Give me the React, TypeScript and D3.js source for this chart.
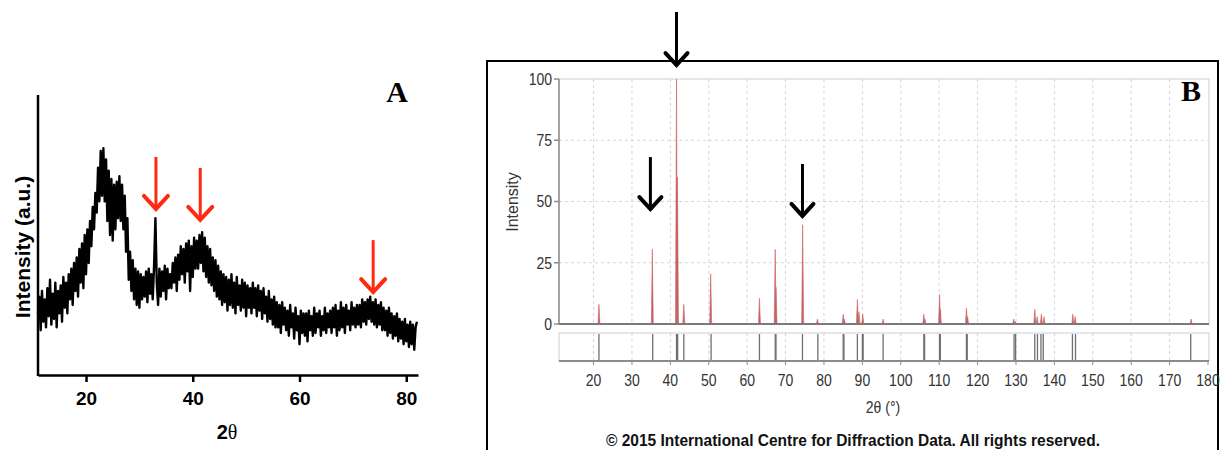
import React, { useEffect, useRef } from "react";
import * as d3 from "d3";

const width = 1221;
const height = 450;

// --- panel A: measured pattern, 2θ = 11 .. 82 every 0.25 (a.u.)
const scanStart = 11;
const scanStep = 0.25;
const scanIntensity = [
  22, 28, 16, 30, 19, 27, 17, 31, 21, 34, 18, 29, 20, 33, 17, 30, 22, 32, 19, 35,
  24, 33, 22, 36, 27, 38, 25, 40, 30, 42, 28, 45, 33, 47, 31, 50, 36, 52, 40, 55,
  46, 60, 52, 65, 58, 74, 62, 80, 64, 81, 62, 77, 55, 73, 50, 70, 48, 68, 52, 69,
  56, 71, 55, 68, 52, 64, 44, 56, 34, 44, 30, 41, 27, 38, 25, 37, 24, 36, 27, 35,
  28, 37, 26, 38, 29, 36, 27, 39, 56, 33, 25, 38, 28, 37, 30, 39, 27, 38, 31, 36,
  31, 40, 33, 42, 30, 43, 34, 46, 36, 45, 33, 47, 37, 48, 30, 46, 35, 49, 38, 48,
  38, 50, 40, 51, 37, 49, 35, 46, 33, 45, 32, 42, 30, 41, 28, 39, 27, 37, 25, 36,
  26, 35, 23, 34, 25, 36, 24, 33, 22, 35, 25, 32, 23, 34, 24, 33, 21, 32, 24, 31,
  22, 33, 24, 31, 21, 32, 23, 30, 20, 31, 22, 28, 19, 30, 20, 27, 18, 28, 17, 26,
  17, 25, 15, 26, 18, 24, 16, 23, 14, 25, 17, 22, 13, 24, 16, 21, 11, 23, 15, 22,
  14, 22, 12, 23, 16, 21, 14, 24, 15, 22, 17, 23, 14, 21, 16, 24, 15, 22, 17, 23,
  15, 24, 17, 25, 14, 23, 16, 26, 17, 24, 15, 25, 18, 23, 16, 26, 18, 24, 17, 25,
  18, 25, 17, 27, 19, 26, 18, 27, 20, 28, 19, 26, 18, 27, 17, 25, 18, 26, 16, 24,
  16, 23, 14, 24, 15, 22, 13, 21, 14, 22, 12, 20, 13, 19, 11, 20, 12, 18, 10, 19,
  11, 18, 9, 17, 19,
];
const ticksA = [20, 40, 60, 80];
const arrowXA = [33.1, 41.4, 73.8];
const arrowTipA = [59.3, 55.4, 29.6];

// --- panel B: ICDD reference card
const peakPos = [
  21.4, 35.3, 41.6, 41.85, 43.5, 50.5, 63.2, 67.3, 67.5, 74.45, 78.3, 85.0, 85.3,
  88.7, 89.1, 90.1, 95.4, 106.0, 106.3, 110.1, 110.3, 117.1, 117.4, 129.4, 129.8,
  134.9, 135.5, 136.6, 137.3, 144.8, 145.4, 175.6,
];
const peakInt = [
  8, 30.5, 100, 60, 8, 20.5, 10.5, 30.5, 15, 40.5, 2, 4, 2,
  10, 5, 4, 2, 4, 2, 12, 6, 6.5, 3, 2, 1,
  6, 3, 4, 3, 4, 3, 2,
];
const stickPos = [
  21.4, 35.4, 41.6, 41.9, 43.5, 50.6, 63.2, 67.3, 67.5, 74.4, 78.4, 85.0, 85.2,
  88.7, 90.0, 90.2, 95.4, 106.0, 106.2, 110.1, 110.3, 117.1, 117.3, 129.5, 129.9,
  134.9, 135.6, 136.5, 137.1, 144.7, 145.5, 175.5,
];
const ticksBx = [20, 30, 40, 50, 60, 70, 80, 90, 100, 110, 120, 130, 140, 150, 160, 170, 180];
const ticksBy = [0, 25, 50, 75, 100];
const arrowXB = [41.6, 34.8, 74.4];
const arrowTipB = [105.7, 46.9, 44.1];

const sans = "'Liberation Sans', Arial, sans-serif";
const serif = "'Liberation Serif', 'Times New Roman', serif";

function arrow(g, x, tip, color, len, head, w) {
  g.append("line")
    .attr("x1", x).attr("x2", x)
    .attr("y1", tip - len).attr("y2", tip - 2)
    .attr("stroke", color).attr("stroke-width", w);
  g.append("path")
    .attr("d", `M${x - head},${tip - head - 1}L${x},${tip}L${x + head},${tip - head - 1}`)
    .attr("fill", "none").attr("stroke", color)
    .attr("stroke-width", w + 1).attr("stroke-linecap", "round").attr("stroke-linejoin", "miter");
}

export default function App() {
  const ref = useRef(null);

  useEffect(() => {
    const svg = d3.select(ref.current);
    svg.selectAll("*").remove();

    // ================= panel A =================
    const xA = d3.scaleLinear().domain([11, 82.2]).range([38, 418]);
    const yA = d3.scaleLinear().domain([0, 100]).range([375, 95]);

    const gA = svg.append("g");
    gA.append("path")
      .datum(scanIntensity)
      .attr("fill", "none")
      .attr("stroke", "#000")
      .attr("stroke-width", 2.4)
      .attr("stroke-linejoin", "round")
      .attr("d", d3.line<number>()
        .x((d, i) => xA(scanStart + i * scanStep))
        .y(d => yA(d)));

    gA.append("g")
      .attr("transform", `translate(0,${yA(0)})`)
      .call(d3.axisBottom(xA).tickValues(ticksA).tickSize(7).tickSizeOuter(0).tickPadding(10))
      .call(g => g.select(".domain").attr("stroke-width", 2.5))
      .call(g => g.selectAll(".tick line").attr("stroke-width", 2.5))
      .call(g => g.selectAll(".tick text")
        .attr("font-family", sans).attr("font-weight", "bold").attr("font-size", 19).attr("fill", "#000"));

    gA.append("line")
      .attr("x1", xA(11)).attr("x2", xA(11))
      .attr("y1", yA(100)).attr("y2", yA(0) + 1)
      .attr("stroke", "#000").attr("stroke-width", 2.5);

    gA.append("text")
      .attr("transform", "translate(22,247) rotate(-90)")
      .attr("text-anchor", "middle").attr("dominant-baseline", "central")
      .attr("font-family", sans).attr("font-weight", "bold").attr("font-size", 21)
      .text("Intensity (a.u.)");

    const tA = gA.append("text")
      .attr("x", 227).attr("y", 439)
      .attr("text-anchor", "middle")
      .attr("font-family", sans).attr("font-weight", "bold").attr("font-size", 20);
    tA.append("tspan").text("2");
    tA.append("tspan").attr("font-family", serif).attr("font-weight", "normal").text("θ");

    gA.append("text")
      .attr("x", 397).attr("y", 102)
      .attr("text-anchor", "middle")
      .attr("font-family", serif).attr("font-weight", "bold").attr("font-size", 30)
      .text("A");

    arrowXA.forEach((x, i) => arrow(gA, xA(x), yA(arrowTipA[i]), "#ff2a12", 52, 12, 3));

    // ================= panel B =================
    const xB = d3.scaleLinear().domain([11, 180]).range([559, 1208]);
    const yB = d3.scaleLinear().domain([0, 100]).range([324, 79]);
    const left = 559, right = 1209, top = 79, bottom = 324;
    const sTop = 333, sBot = 361;
    const gB = svg.append("g");

    // frame
    gB.append("path")
      .attr("d", `M487,${height}V61H1218V${height}`)
      .attr("fill", "none").attr("stroke", "#000").attr("stroke-width", 2);

    // grid
    gB.selectAll(".vgrid")
      .data(ticksBx.filter(d => d < 180))
      .join("path")
      .attr("d", d => `M${xB(d)},${top}V${bottom}M${xB(d)},${sTop}V${sBot}`)
      .attr("stroke", "#d6d6d6").attr("stroke-dasharray", "3,3");
    gB.selectAll(".hgrid")
      .data(ticksBy.filter(d => d > 0 && d < 100))
      .join("line")
      .attr("x1", left).attr("x2", right)
      .attr("y1", d => yB(d)).attr("y2", d => yB(d))
      .attr("stroke", "#d6d6d6").attr("stroke-dasharray", "3,3");

    gB.append("rect")
      .attr("x", left).attr("y", top).attr("width", right - left).attr("height", bottom - top)
      .attr("fill", "none").attr("stroke", "#cfcfcf");
    gB.append("rect")
      .attr("x", left).attr("y", sTop).attr("width", right - left).attr("height", sBot - sTop)
      .attr("fill", "none").attr("stroke", "#cfcfcf");

    // peaks
    gB.selectAll(".peak")
      .data(peakPos)
      .join("path")
      .attr("d", (d, i) => `M${xB(d) - 1},${yB(0)}L${xB(d)},${yB(peakInt[i])}L${xB(d) + 1},${yB(0)}Z`)
      .attr("fill", "#c86262").attr("stroke", "#c86262").attr("stroke-width", 0.6);

    // y axis
    gB.append("line")
      .attr("x1", left).attr("x2", left).attr("y1", top).attr("y2", bottom)
      .attr("stroke", "#8c8c8c").attr("stroke-width", 1.5);
    gB.selectAll(".ytick")
      .data(ticksBy)
      .join("line")
      .attr("x1", left - 5).attr("x2", left)
      .attr("y1", d => yB(d)).attr("y2", d => yB(d))
      .attr("stroke", "#8c8c8c").attr("stroke-width", 1.5);
    gB.selectAll(".ylab")
      .data(ticksBy)
      .join("text")
      .attr("transform", d => `translate(552,${yB(d)}) scale(1,1.18)`)
      .attr("text-anchor", "end").attr("dominant-baseline", "central")
      .attr("font-family", sans).attr("font-size", 14).attr("fill", "#333")
      .text(d => d);

    gB.append("line")
      .attr("x1", left).attr("x2", right).attr("y1", yB(0)).attr("y2", yB(0))
      .attr("stroke", "#7a7a7a").attr("stroke-width", 2);

    // stick pattern
    gB.selectAll(".stick")
      .data(stickPos)
      .join("line")
      .attr("x1", d => xB(d)).attr("x2", d => xB(d))
      .attr("y1", sTop + 1).attr("y2", sBot)
      .attr("stroke", "#707070").attr("stroke-width", 1.3);
    gB.append("line")
      .attr("x1", left).attr("x2", right).attr("y1", sBot).attr("y2", sBot)
      .attr("stroke", "#8c8c8c").attr("stroke-width", 2);

    // x axis
    gB.selectAll(".xtick")
      .data(ticksBx)
      .join("line")
      .attr("x1", d => xB(d)).attr("x2", d => xB(d))
      .attr("y1", sBot).attr("y2", sBot + 4)
      .attr("stroke", "#8c8c8c");
    gB.selectAll(".xlab")
      .data(ticksBx)
      .join("text")
      .attr("transform", d => `translate(${xB(d)},380) scale(1,1.18)`)
      .attr("text-anchor", "middle").attr("dominant-baseline", "central")
      .attr("font-family", sans).attr("font-size", 14).attr("fill", "#333")
      .text(d => d);

    gB.append("text")
      .attr("transform", "translate(883,407) scale(1,1.18)")
      .attr("text-anchor", "middle").attr("dominant-baseline", "central")
      .attr("font-family", sans).attr("font-size", 14).attr("fill", "#333")
      .text("2θ (°)");

    gB.append("text")
      .attr("transform", "translate(512,202) rotate(-90)")
      .attr("text-anchor", "middle").attr("dominant-baseline", "central")
      .attr("font-family", sans).attr("font-size", 16).attr("fill", "#333")
      .text("Intensity");

    gB.append("text")
      .attr("x", 606).attr("y", 446)
      .attr("textLength", 494).attr("lengthAdjust", "spacingAndGlyphs")
      .attr("font-family", sans).attr("font-weight", "bold").attr("font-size", 16.5).attr("fill", "#111")
      .text("© 2015 International Centre for Diffraction Data. All rights reserved.");

    gB.append("text")
      .attr("x", 1191).attr("y", 101)
      .attr("text-anchor", "middle")
      .attr("font-family", serif).attr("font-weight", "bold").attr("font-size", 30)
      .text("B");

    arrowXB.forEach((x, i) =>
      arrow(gB, xB(x), yB(arrowTipB[i]), "#000", i === 0 ? 53 : 52, 11, 3));
  }, []);

  return (
    <svg
      ref={ref}
      width={width}
      height={height}
      viewBox={`0 0 ${width} ${height}`}
      style={{ position: "absolute", left: 0, top: 0, background: "#fff" }}
    ></svg>
  );
}
